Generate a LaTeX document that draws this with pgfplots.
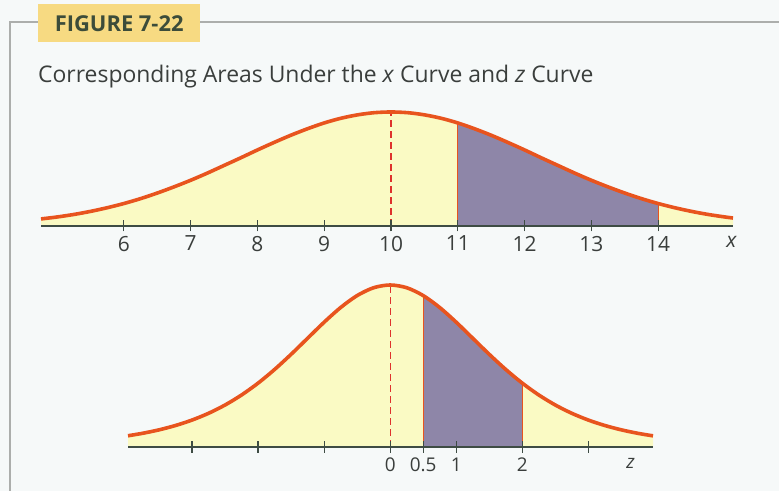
\documentclass[border=0pt]{standalone}
\usepackage{pgfplots}
\pgfplotsset{compat=1.18}
\usepackage{pgfplotstable}
\usepackage{fontspec}
\setmainfont{Open Sans}

\definecolor{pagebg}{RGB}{246,249,249}
\definecolor{framegray}{RGB}{172,174,172}
\definecolor{badge}{RGB}{247,218,130}
\definecolor{badgetext}{RGB}{60,76,58}
\definecolor{textdark}{RGB}{58,62,60}
\definecolor{curvecol}{RGB}{232,84,30}
\definecolor{lightyellow}{RGB}{250,250,196}
\definecolor{shade}{RGB}{142,134,168}
\definecolor{axiscol}{RGB}{62,76,68}
\definecolor{dashred}{RGB}{222,50,45}

% x curve: mean 10, heights relative to the peak
\pgfplotstableread{
x y
4.76 0.062
5.00 0.079
5.25 0.101
5.50 0.128
5.75 0.160
6.00 0.197
6.25 0.240
6.50 0.289
6.75 0.343
7.00 0.401
7.25 0.464
7.50 0.531
7.75 0.598
8.00 0.667
8.25 0.733
8.50 0.796
8.75 0.853
9.00 0.904
9.25 0.945
9.50 0.975
9.75 0.994
10.00 1.000
10.25 0.994
10.50 0.975
10.75 0.945
11.00 0.904
11.25 0.853
11.50 0.796
11.75 0.733
12.00 0.667
12.25 0.598
12.50 0.531
12.75 0.464
13.00 0.401
13.25 0.343
13.50 0.289
13.75 0.240
14.00 0.197
14.25 0.160
14.50 0.128
14.75 0.101
15.00 0.079
15.12 0.070
}\xcurve

% z curve: mean 0, heights relative to the peak
\pgfplotstableread{
x y
-3.97 0.0694
-3.75 0.0845
-3.50 0.1059
-3.25 0.1328
-3.00 0.1664
-2.75 0.2081
-2.50 0.2593
-2.25 0.3212
-2.00 0.3944
-1.75 0.4787
-1.50 0.5722
-1.25 0.6714
-1.00 0.7703
-0.75 0.8610
-0.50 0.9348
-0.25 0.9832
0.00 1.0000
0.25 0.9832
0.50 0.9348
0.75 0.8610
1.00 0.7703
1.25 0.6714
1.50 0.5722
1.75 0.4787
2.00 0.3944
2.25 0.3212
2.50 0.2593
2.75 0.2081
3.00 0.1664
3.25 0.1328
3.50 0.1059
3.75 0.0845
3.98 0.0688
}\zcurve

\pgfplotsset{
  bellaxis/.style={
    scale only axis, clip=false, axis on top,
    ymin=0, ymax=1,
    axis y line=none,
    axis x line*=bottom,
    x axis line style={-, draw=axiscol, line width=1.3bp},
    major tick length=11bp, tick align=center,
    tick style={draw=axiscol, line width=1.2bp},
    /pgf/number format/assume math mode=true,
    extra tick style={major tick style={draw=none}},
  }
}

\begin{document}
\begin{tikzpicture}
\fill[pagebg] (0bp,0bp) rectangle (779bp,491bp);
\useasboundingbox (0bp,0bp) rectangle (779bp,491bp);

% frame rule and badge
\draw[framegray, line width=2bp] (10bp,0bp) -- (10bp,469bp) -- (38bp,469bp);
\draw[framegray, line width=2bp] (200bp,469bp) -- (779bp,469bp);
\node[fill=badge, inner sep=0pt, minimum width=162bp, minimum height=38bp,
      anchor=north west, text=badgetext,
      font=\fontsize{22}{26}\selectfont\bfseries] at (38bp,487bp) {FIGURE 7-22};
\node[anchor=base west, inner sep=0pt, text=textdark,
      font=\fontsize{23}{27}\selectfont] at (38bp,408bp)
  {Corresponding Areas Under the \textit{x} Curve and \textit{z} Curve};

% upper panel: x curve
\begin{axis}[bellaxis, at={(41bp,265bp)}, anchor=south west,
    width=692bp, height=114bp,
    xmin=4.76, xmax=15.12,
    xtick={6,7,8,9,10,11,12,13,14},
    xticklabel style={font=\fontsize{21}{24}\selectfont, text=textdark, yshift=-1bp},
    extra x ticks={15.1}, extra x tick labels={\textit{x}}]
  \addplot[draw=none, fill=lightyellow, smooth] table {\xcurve} \closedcycle;
  \addplot[draw=none, fill=shade, smooth, restrict x to domain=11:14] table {\xcurve} \closedcycle;
  \addplot[curvecol, line width=1.3bp] coordinates {(11,0) (11,0.904)};
  \addplot[curvecol, line width=1.3bp] coordinates {(14,0) (14,0.197)};
  \addplot[dashred, line width=1.2bp, dash pattern=on 7bp off 4bp] coordinates {(10,0) (10,1)};
  \addplot[curvecol, line width=3.6bp, smooth] table {\xcurve};
\end{axis}

% lower panel: z curve
\begin{axis}[bellaxis, at={(128bp,44bp)}, anchor=south west,
    width=525bp, height=162bp,
    xmin=-3.97, xmax=3.98,
    xtick={-3,-2,-1,0,0.5,1,2,3},
    xticklabels={,,,0,0.5,1,2,},
    xticklabel style={font=\fontsize{19}{22}\selectfont, text=textdark, yshift=-2bp},
    extra x ticks={3.64}, extra x tick labels={\textit{z}}]
  \addplot[draw=none, fill=lightyellow, smooth] table {\zcurve} \closedcycle;
  \addplot[draw=none, fill=shade, smooth, restrict x to domain=0.5:2] table {\zcurve} \closedcycle;
  \addplot[curvecol, line width=1.3bp] coordinates {(0.5,0) (0.5,0.9348)};
  \addplot[curvecol, line width=1.3bp] coordinates {(2,0) (2,0.3944)};
  \addplot[dashred, line width=1.2bp, dash pattern=on 7bp off 4bp] coordinates {(0,0) (0,1)};
  \addplot[curvecol, line width=3.6bp, smooth] table {\zcurve};
\end{axis}
\end{tikzpicture}
\end{document}
